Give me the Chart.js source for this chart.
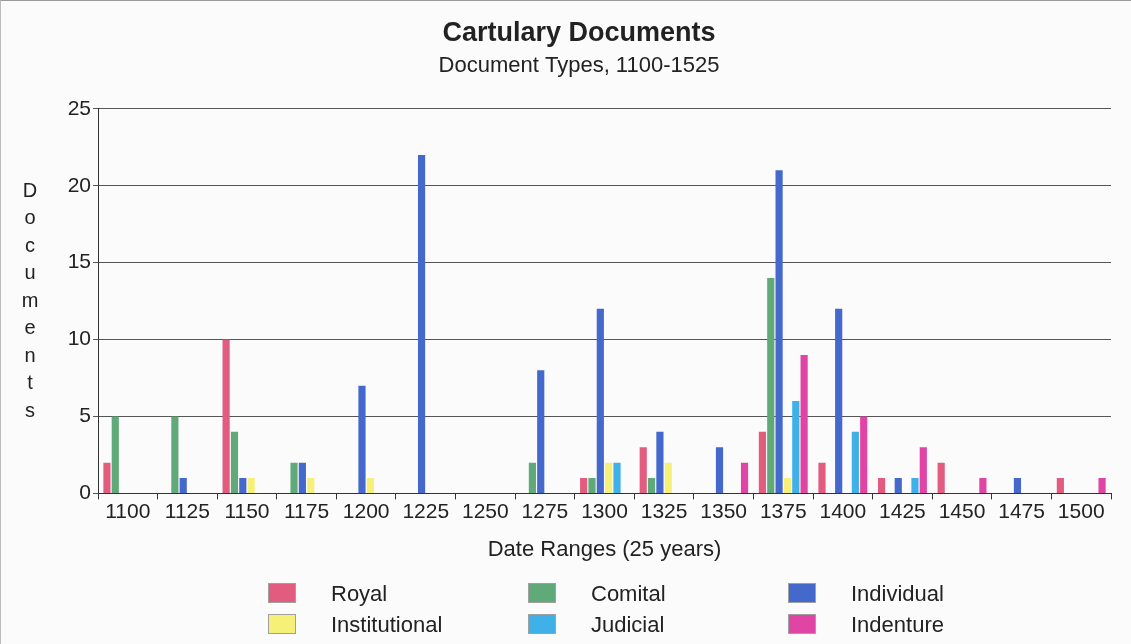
<!DOCTYPE html>
<html>
<head>
<meta charset="utf-8">
<title>Cartulary Documents</title>
<script src="https://cdn.jsdelivr.net/npm/chart.js@4/dist/chart.umd.min.js"></script>
<style>
    body { margin: 0; background: #ffffff; }
    #wrap { position: relative; width: 1131px; height: 644px; background: #fbfbfb; box-sizing: border-box; border-top: 1px solid #9a9a9a; border-left: 1px solid #bdbdbd; }
    #myChart1 { position: absolute; left: 0; top: 0; }
    #legend { position: absolute; left: 0; top: 0; width: 1131px; height: 644px; pointer-events: none; font-family: "Liberation Sans", Arial, sans-serif; font-size: 22px; color: #222; }
    .item { position: absolute; height: 22px; line-height: 22px; }
    .item span.box { position: absolute; left: 0; top: 0; width: 28px; height: 20px; border: 1px solid #a0a0a0; box-sizing: border-box; }
    .item span.txt { position: absolute; left: 63px; top: 0; white-space: nowrap; }
</style>
</head>
<body>
<div id="wrap">
    <canvas id="myChart1" width="1131" height="644"></canvas>
    <div id="legend"></div>
</div>
<script>
// *********
// * Data  *
// *********
var dateRanges = ['1100', '1125', '1150', '1175', '1200', '1225', '1250', '1275', '1300',
                  '1325', '1350', '1375', '1400', '1425', '1450', '1475', '1500'];

var royal         = [2, 0, 10, 0, 0, 0, 0, 0, 1, 3, 0, 4, 2, 1, 2, 0, 1];
var comital       = [5, 5, 4, 2, 0, 0, 0, 2, 1, 1, 0, 14, 0, 0, 0, 0, 0];
var individual    = [0, 1, 1, 2, 7, 22, 0, 8, 12, 4, 3, 21, 12, 1, 0, 1, 0];
var institutional = [0, 0, 1, 1, 1, 0, 0, 0, 2, 2, 0, 1, 0, 0, 0, 0, 0];
var judicial      = [0, 0, 0, 0, 0, 0, 0, 0, 2, 0, 0, 6, 4, 1, 0, 0, 0];
var indenture     = [0, 0, 0, 0, 0, 0, 0, 0, 0, 0, 2, 9, 5, 3, 1, 0, 1];

var yTicks = [0, 5, 10, 15, 20, 25];
var yTitle = 'Documents';

var fontFamily = '"Liberation Sans", Arial, sans-serif';

// stacked letters for the y axis title
var stackedTitle = {
    id: 'stackedTitle',
    afterDraw: function(chart) {
        var ctx = chart.ctx;
        ctx.save();
        ctx.fillStyle = '#222';
        ctx.font = '20px ' + fontFamily;
        ctx.textAlign = 'center';
        ctx.textBaseline = 'middle';
        var step = 27.5;
        var top = 190;
        for (var i = 0; i < yTitle.length; i++) {
            ctx.fillText(yTitle[i], 29, top + i * step);
        }
        ctx.restore();
    }
};

function makeSet(label, color, data) {
    return {
        label: label,
        backgroundColor: color,
        borderColor: color,
        borderWidth: 0,
        data: data,
        categoryPercentage: 0.84,
        barPercentage: 0.86
    };
}

var ctx = document.getElementById('myChart1').getContext('2d');
var chart = new Chart(ctx, {
    type: 'bar',
    data: {
        labels: dateRanges,
        datasets: [
            makeSet('Royal', 'rgb(226, 92, 128)', royal),
            makeSet('Comital', 'rgb(96, 170, 122)', comital),
            makeSet('Individual', 'rgb(68, 104, 204)', individual),
            makeSet('Institutional', 'rgb(246, 240, 120)', institutional),
            makeSet('Judicial', 'rgb(64, 176, 232)', judicial),
            makeSet('Indenture', 'rgb(224, 68, 164)', indenture)
        ]
    },
    options: {
        responsive: false,
        animation: false,
        layout: { padding: { left: 46, right: 21, top: 8, bottom: 82 } },
        plugins: {
            legend: { display: false },
            tooltip: { enabled: false },
            title: {
                display: true,
                text: 'Cartulary Documents',
                color: '#222',
                font: { family: fontFamily, size: 27, weight: 'bold' },
                padding: { top: 8, bottom: 3 }
            },
            subtitle: {
                display: true,
                text: 'Document Types, 1100-1525',
                color: '#222',
                font: { family: fontFamily, size: 22 },
                padding: { top: 0, bottom: 30 }
            }
        },
        scales: {
            x: {
                grid: { drawOnChartArea: false, drawTicks: true, tickLength: 6, color: '#333', offset: true },
                border: { display: true, color: '#333', width: 1 },
                ticks: { color: '#222', font: { family: fontFamily, size: 21 }, padding: 0, maxRotation: 0, autoSkip: false },
                title: {
                    display: true,
                    text: 'Date Ranges (25 years)',
                    color: '#222',
                    font: { family: fontFamily, size: 22 },
                    padding: { top: 12, bottom: 0 }
                }
            },
            y: {
                min: 0,
                max: 25,
                afterFit: function(scale) { scale.width = 51; },
                afterBuildTicks: function(scale) {
                    scale.ticks = yTicks.map(function(v) { return { value: v }; });
                },
                grid: { color: '#555', tickLength: 5, lineWidth: 1 },
                border: { display: true, color: '#333', width: 1 },
                ticks: { color: '#222', font: { family: fontFamily, size: 21 }, padding: 2 }
            }
        }
    },
    plugins: [stackedTitle]
});

// HTML legend, three columns like the original
var legendBox = document.getElementById('legend');
var colX = [267, 527, 787];
var rowY = [582, 613];
chart.data.datasets.forEach(function(ds, i) {
    var item = document.createElement('div');
    item.className = 'item';
    item.style.left = colX[i % 3] + 'px';
    item.style.top = rowY[Math.floor(i / 3)] + 'px';
    var box = document.createElement('span');
    box.className = 'box';
    box.style.background = ds.backgroundColor;
    var txt = document.createElement('span');
    txt.className = 'txt';
    txt.textContent = ds.label;
    item.appendChild(box);
    item.appendChild(txt);
    legendBox.appendChild(item);
});
</script>
</body>
</html>
